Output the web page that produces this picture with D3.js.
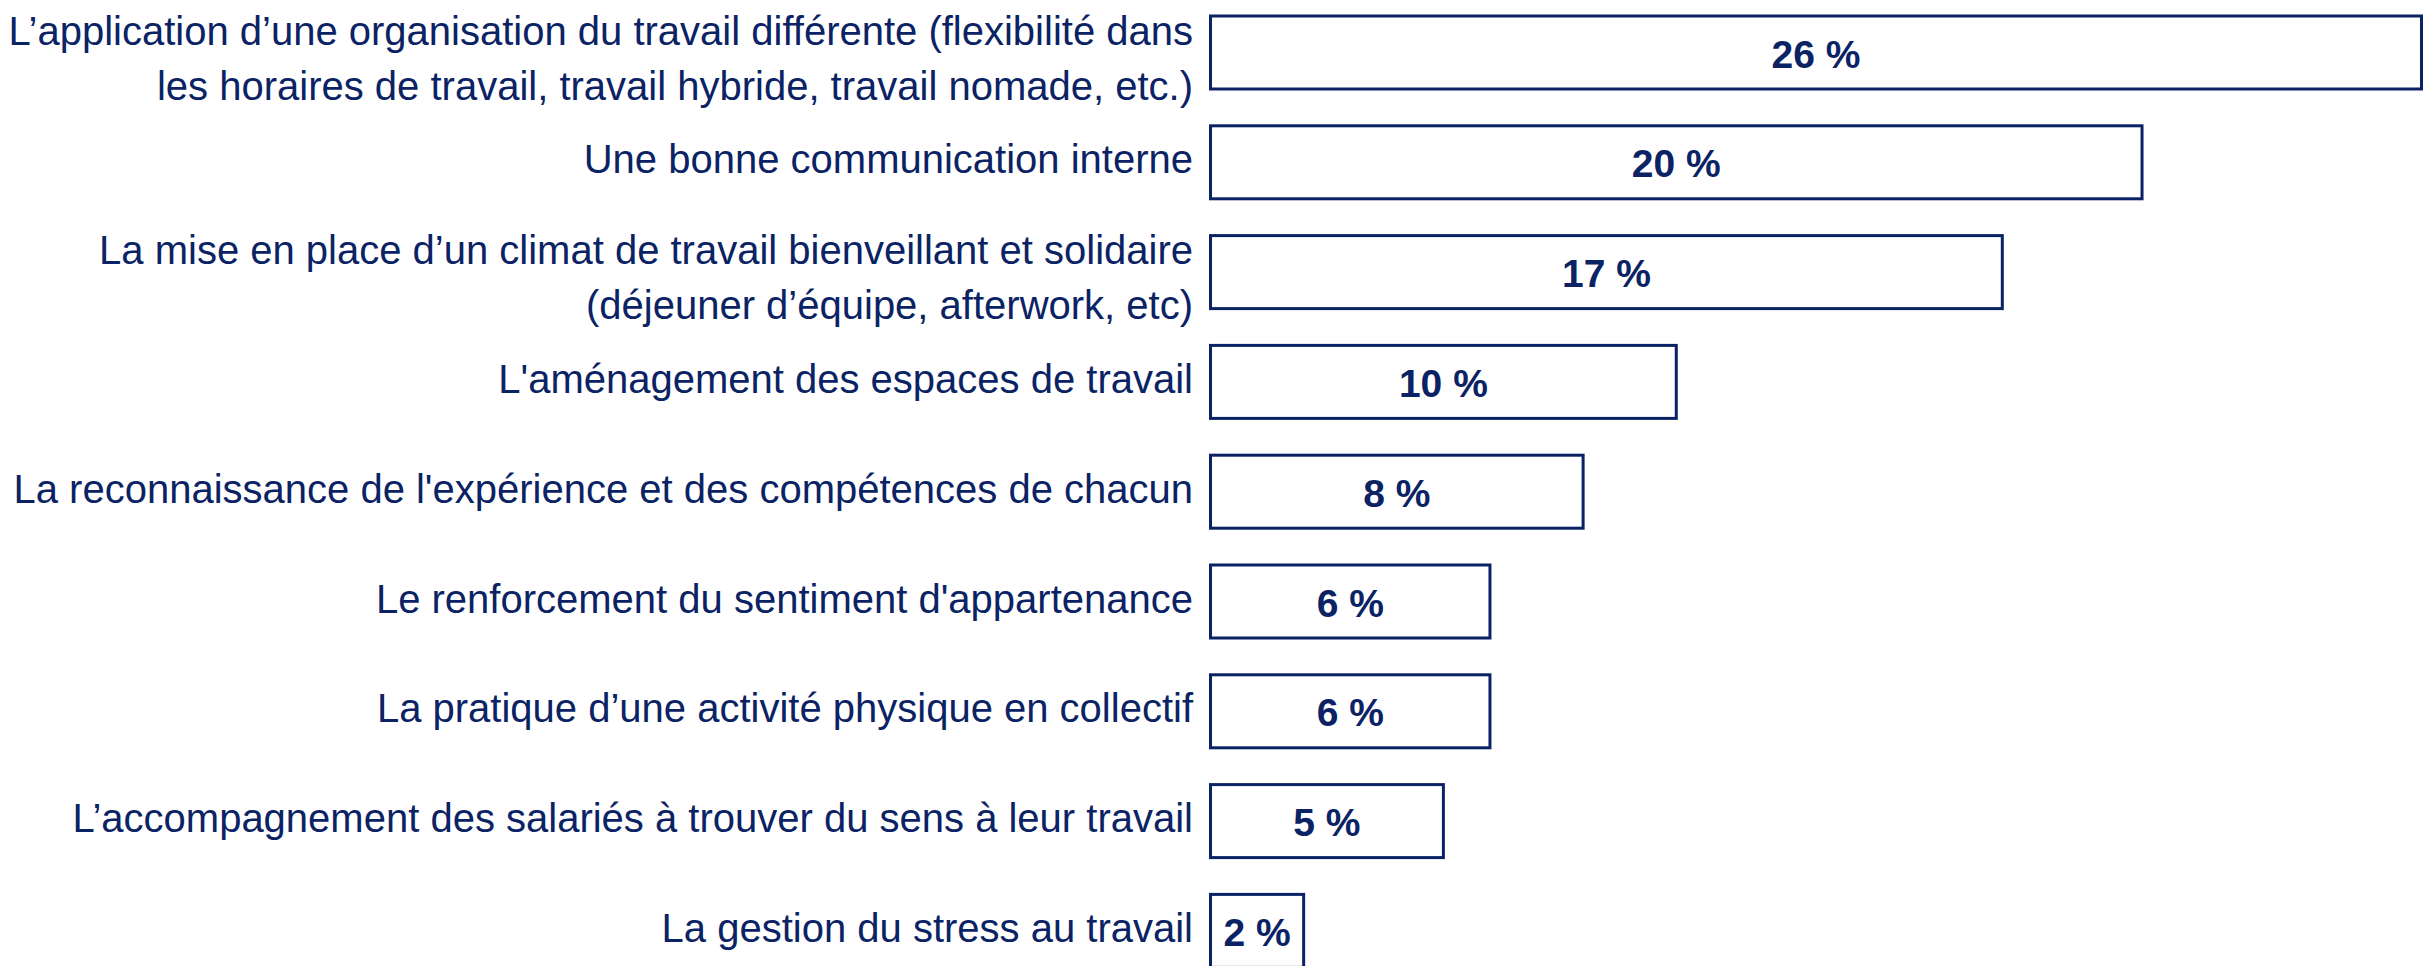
<!DOCTYPE html>
<html>
<head>
<meta charset="utf-8">
<script src="https://cdn.jsdelivr.net/npm/d3@7"></script>
<style>
    html, body { margin: 0; padding: 0; background: #fff; }
    svg { display: block; }
</style>
</head>
<body>
<div id="chart"></div>
<script>
// Categories (multi-line labels split with \n)
const categories = [
    "L\u2019application d\u2019une organisation du travail différente (flexibilité dans\nles horaires de travail, travail hybride, travail nomade, etc.)",
    "Une bonne communication interne",
    "La mise en place d\u2019un climat de travail bienveillant et solidaire\n(déjeuner d\u2019équipe, afterwork, etc)",
    "L'aménagement des espaces de travail",
    "La reconnaissance de l'expérience et des compétences de chacun",
    "Le renforcement du sentiment d'appartenance",
    "La pratique d\u2019une activité physique en collectif",
    "L\u2019accompagnement des salariés à trouver du sens à leur travail",
    "La gestion du stress au travail"
];

// Share of respondents, in %
const values = [26, 20, 17, 10, 8, 6, 6, 5, 2];

(function() {
    const width = 2435;
    const height = 966;
    const navy = '#0b2364';
    const fontFamily = 'Helvetica, "Liberation Sans", Arial, sans-serif';

    const svg = d3.select('#chart')
        .append('svg')
        .attr('width', width)
        .attr('height', height);

    // Horizontal scale: 0 sits on the bars' left edge
    const x = d3.scaleLinear()
        .domain([0, 26])
        .range([1210.5, 2421.5]);

    // Vertical bands, last bar runs off the bottom of the picture
    const step = 109.8;
    const barH = 73;
    const y = d3.scaleBand()
        .domain(categories)
        .range([16, 16 + 8 * step + barH])
        .paddingInner(1 - barH / step)
        .paddingOuter(0);

    const rows = svg.append('g')
        .selectAll('g')
        .data(categories.map((c, i) => ({ label: c, value: values[i] })))
        .enter()
        .append('g');

    // Outlined bars
    rows.append('rect')
        .attr('x', x(0))
        .attr('y', d => y(d.label))
        .attr('width', d => x(d.value) - x(0))
        .attr('height', y.bandwidth())
        .attr('fill', '#fff')
        .attr('stroke', navy)
        .attr('stroke-width', 3);

    // Value inside each bar
    rows.append('text')
        .attr('x', d => (x(0) + x(d.value)) / 2)
        .attr('y', d => y(d.label) + y.bandwidth() / 2 + 15)
        .attr('text-anchor', 'middle')
        .attr('font-family', fontFamily)
        .attr('font-weight', 'bold')
        .attr('font-size', 39)
        .attr('fill', navy)
        .text(d => `${d.value} %`);

    // Category labels, right aligned against the bars
    rows.append('text')
        .attr('text-anchor', 'end')
        .attr('font-family', fontFamily)
        .attr('font-size', 40)
        .attr('fill', navy)
        .each(function(d) {
            const lines = d.label.split('\n');
            const cy = y(d.label) + y.bandwidth() / 2;
            const lineH = 55;
            const first = lines.length === 1 ? cy + 11 : cy - 8;
            lines.forEach((line, i) => {
                d3.select(this).append('tspan')
                    .attr('x', 1193)
                    .attr('y', first + i * lineH)
                    .text(line);
            });
        });
})();
</script>
</body>
</html>
